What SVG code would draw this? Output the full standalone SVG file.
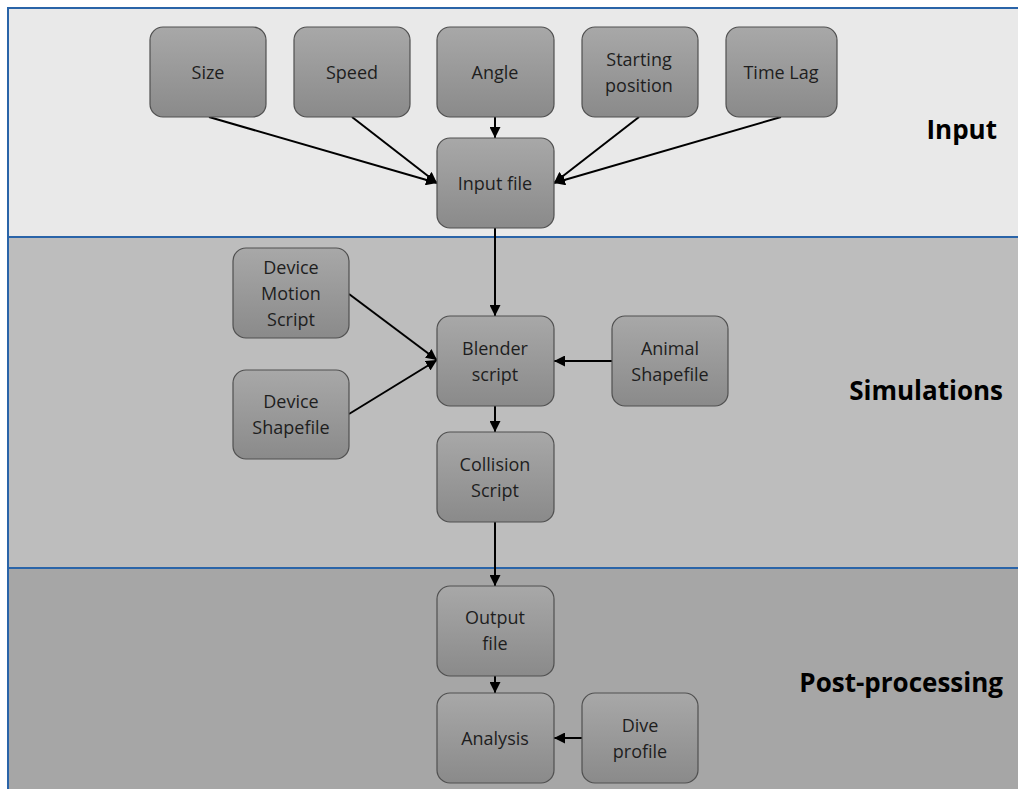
<svg xmlns="http://www.w3.org/2000/svg" width="1018" height="789" viewBox="0 0 1018 789">
<style>
.node rect{fill:url(#g);stroke:#505050;stroke-width:1.2}
.node text{font-family:"Open Sans","Liberation Sans",sans-serif;font-size:18px;fill:#1e1e1e;text-anchor:middle}
.title{font-family:"Open Sans","Liberation Sans",sans-serif;font-size:26px;font-weight:bold;fill:#000;text-anchor:end}
.conn line{stroke:#000;stroke-width:2;marker-end:url(#ah)}
.div{stroke:#2a64a8;stroke-width:2}
</style>
<defs>
<linearGradient id="g" x1="0" y1="0" x2="0" y2="1">
<stop offset="0" stop-color="#a8a8a8"/>
<stop offset="1" stop-color="#8a8a8a"/>
</linearGradient>
<marker id="ah" viewBox="0 0 10 10" refX="10" refY="5" markerWidth="5.5" markerHeight="5.5" orient="auto" markerUnits="strokeWidth">
<path d="M0,0 L10,5 L0,10 Z" fill="#000"/>
</marker>
</defs>
<rect width="1018" height="789" fill="#ffffff"/>
<rect x="8" y="8" width="1010" height="229" fill="#e9e9e9"/>
<rect x="8" y="237" width="1010" height="331" fill="#bdbdbd"/>
<rect x="8" y="568" width="1010" height="221" fill="#a6a6a6"/>
<line class="div" x1="8" y1="8" x2="1018" y2="8"/>
<line class="div" x1="8" y1="7" x2="8" y2="789"/>
<line class="div" x1="8" y1="237" x2="1018" y2="237"/>
<line class="div" x1="8" y1="568" x2="1018" y2="568"/>
<text class="title" x="997" y="139">Input</text>
<text class="title" x="1003" y="400">Simulations</text>
<text class="title" x="1003" y="692">Post-processing</text>
<g class="conn">
<line x1="209" y1="117" x2="437" y2="183"/>
<line x1="352" y1="117" x2="437" y2="183"/>
<line x1="495" y1="117" x2="495" y2="138"/>
<line x1="639" y1="117" x2="554" y2="183"/>
<line x1="781" y1="117" x2="554" y2="183"/>
<line x1="495" y1="228" x2="495" y2="316"/>
<line x1="349" y1="294" x2="437" y2="360"/>
<line x1="349" y1="414" x2="437" y2="360"/>
<line x1="612" y1="361" x2="554" y2="361"/>
<line x1="495" y1="406" x2="495" y2="432"/>
<line x1="495" y1="522" x2="495" y2="586"/>
<line x1="495" y1="676" x2="495" y2="693"/>
<line x1="582" y1="738" x2="554" y2="738"/>
</g>
<g id="size" class="node"><rect x="150" y="27" width="116" height="90" rx="13"/><text x="208" y="79">Size</text></g>
<g id="speed" class="node"><rect x="294" y="27" width="116" height="90" rx="13"/><text x="352" y="79">Speed</text></g>
<g id="angle" class="node"><rect x="437" y="27" width="117" height="90" rx="13"/><text x="495" y="79">Angle</text></g>
<g id="starting" class="node"><rect x="582" y="27" width="116" height="90" rx="13"/><text x="639" y="66">Starting</text><text x="639" y="92">position</text></g>
<g id="timelag" class="node"><rect x="726" y="27" width="111" height="90" rx="13"/><text x="781" y="79">Time Lag</text></g>
<g id="inputfile" class="node"><rect x="437" y="138" width="117" height="90" rx="13"/><text x="495" y="190">Input file</text></g>
<g id="devmotion" class="node"><rect x="233" y="248" width="116" height="90" rx="13"/><text x="291" y="274">Device</text><text x="291" y="300">Motion</text><text x="291" y="326">Script</text></g>
<g id="devshape" class="node"><rect x="233" y="370" width="116" height="89" rx="13"/><text x="291" y="408">Device</text><text x="291" y="434">Shapefile</text></g>
<g id="blender" class="node"><rect x="437" y="316" width="117" height="90" rx="13"/><text x="495" y="355">Blender</text><text x="495" y="381">script</text></g>
<g id="animal" class="node"><rect x="612" y="316" width="116" height="90" rx="13"/><text x="670" y="355">Animal</text><text x="670" y="381">Shapefile</text></g>
<g id="collision" class="node"><rect x="437" y="432" width="117" height="90" rx="13"/><text x="495" y="471">Collision</text><text x="495" y="497">Script</text></g>
<g id="output" class="node"><rect x="437" y="586" width="117" height="90" rx="13"/><text x="495" y="624">Output</text><text x="495" y="650">file</text></g>
<g id="analysis" class="node"><rect x="437" y="693" width="117" height="90" rx="13"/><text x="495" y="745">Analysis</text></g>
<g id="dive" class="node"><rect x="582" y="693" width="116" height="90" rx="13"/><text x="640" y="732">Dive</text><text x="640" y="758">profile</text></g>
</svg>
